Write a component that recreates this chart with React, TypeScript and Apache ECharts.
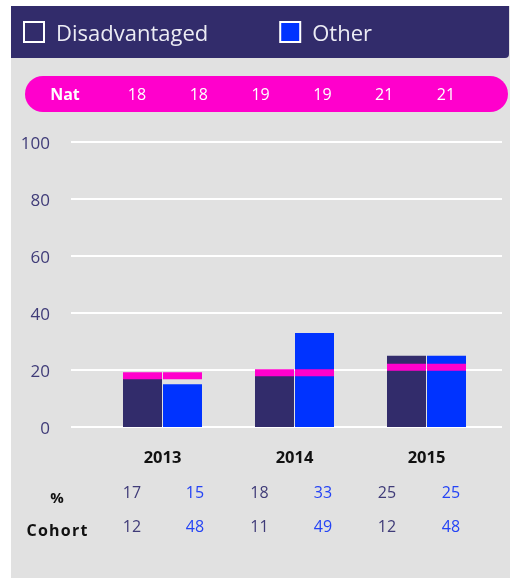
import React, { useEffect, useRef } from 'react';
import * as echarts from 'echarts';

const years = ['2013', '2014', '2015'];
const disadvantaged = [17, 18, 25];
const other = [15, 33, 25];
const natDisadvantaged = [18, 19, 21];
const natOther = [18, 19, 21];
const natLabels = ['18', '18', '19', '19', '21', '21'];
const pctDisadvantaged = ['17', '18', '25'];
const pctOther = ['15', '33', '25'];
const cohortDisadvantaged = ['12', '11', '12'];
const cohortOther = ['48', '49', '48'];

const DARK = '#322c6b';
const BLUE = '#0033ff';
const MAGENTA = '#ff00cc';
const GRAY = '#e1e1e1';
const AXIS = '#3f3b78';
const FONT = '"Open Sans", sans-serif';

export default function App() {
  const ref = useRef<HTMLDivElement>(null);
  useEffect(() => {
    if (!ref.current) return;
    const chart = echarts.init(ref.current, undefined, { renderer: 'svg' });

    const graphics: any[] = [
      { type: 'rect', z: -10, shape: { x: 11, y: 6, width: 499, height: 572 }, style: { fill: GRAY }, silent: true },
      { type: 'rect', z: -9, shape: { x: 11, y: 6, width: 498, height: 52, r: [0, 0, 4, 0] }, style: { fill: DARK }, silent: true },
      { type: 'rect', z: -9, shape: { x: 25, y: 76, width: 483, height: 36, r: 18 }, style: { fill: MAGENTA }, silent: true },
      { type: 'text', x: 65, y: 94, style: { text: 'Nat', fill: '#fff', font: `bold 16px ${FONT}`, textAlign: 'center', textVerticalAlign: 'middle' } },
    ];
    natLabels.forEach((t, i) => {
      graphics.push({ type: 'text', x: 137 + 61.8 * i, y: 94, style: { text: t, fill: '#fff', font: `16px ${FONT}`, textAlign: 'center', textVerticalAlign: 'middle' } });
    });
    graphics.push({ type: 'text', x: 57, y: 497, style: { text: '%', fill: '#111', font: `bold 15px ${FONT}`, textAlign: 'center', textVerticalAlign: 'middle' } });
    // "Cohort" with letter spacing: one glyph at a time
    const cohortWord = 'Cohort';
    const glyphW = [10.1, 9.8, 10.5, 9.8, 7.3, 6.9];
    const spacing = 1.3;
    const cohortTotal = glyphW.reduce((a, b) => a + b, 0) + spacing * (glyphW.length - 1);
    let cx = 57 - cohortTotal / 2;
    for (let k = 0; k < cohortWord.length; k++) {
      graphics.push({ type: 'text', x: cx, y: 530, style: { text: cohortWord[k], fill: '#111', font: `bold 16px ${FONT}`, textAlign: 'left', textVerticalAlign: 'middle' } });
      cx += glyphW[k] + spacing;
    }
    years.forEach((_, i) => {
      const xd = 132 + 127.5 * i;
      const xo = 195 + 128 * i;
      graphics.push({ type: 'text', x: xd, y: 492, style: { text: pctDisadvantaged[i], fill: AXIS, font: `16px ${FONT}`, textAlign: 'center', textVerticalAlign: 'middle' } });
      graphics.push({ type: 'text', x: xo, y: 492, style: { text: pctOther[i], fill: '#2443f5', font: `16px ${FONT}`, textAlign: 'center', textVerticalAlign: 'middle' } });
      graphics.push({ type: 'text', x: xd, y: 526, style: { text: cohortDisadvantaged[i], fill: AXIS, font: `16px ${FONT}`, textAlign: 'center', textVerticalAlign: 'middle' } });
      graphics.push({ type: 'text', x: xo, y: 526, style: { text: cohortOther[i], fill: '#2443f5', font: `16px ${FONT}`, textAlign: 'center', textVerticalAlign: 'middle' } });
    });

    chart.setOption({
      animation: false,
      textStyle: { fontFamily: FONT },
      graphic: graphics,
      legend: {
        left: 23,
        top: 16,
        padding: [5, 0, 5, 0],
        itemWidth: 20,
        itemHeight: 20,
        itemGap: 71,
        icon: 'rect',
        data: ['Disadvantaged', 'Other'],
        itemStyle: { borderColor: '#fff', borderWidth: 2 },
        textStyle: { color: '#ececf4', fontSize: 22, fontFamily: FONT, padding: [0, 0, 0, 7] },
        selectedMode: false,
      },
      grid: [
        { left: 71, right: 8, top: 142, bottom: 151 },
        { left: 96.5, width: 396, top: 142, bottom: 151 },
      ],
      xAxis: [
        { type: 'value', gridIndex: 0, min: 0, max: 1, show: false },
        {
          type: 'category', gridIndex: 1, data: years,
          axisLine: { show: false }, axisTick: { show: false },
          axisLabel: { color: '#111', fontWeight: 'bold', fontSize: 16.5, margin: 21, fontFamily: FONT },
        },
      ],
      yAxis: [
        {
          type: 'value', gridIndex: 0, min: 0, max: 100, interval: 20,
          axisLine: { show: false }, axisTick: { show: false },
          axisLabel: { color: AXIS, fontSize: 17, margin: 21, fontFamily: FONT },
          splitLine: { lineStyle: { color: '#fff', width: 2 } },
        },
        { type: 'value', gridIndex: 1, min: 0, max: 100, interval: 20, show: false, splitLine: { show: false } },
      ],
      series: [
        {
          name: 'Disadvantaged', type: 'bar', xAxisIndex: 1, yAxisIndex: 1, data: disadvantaged,
          barWidth: 39, barGap: '2.57%', itemStyle: { color: DARK }, z: 2,
        },
        {
          name: 'Other', type: 'bar', xAxisIndex: 1, yAxisIndex: 1, data: other,
          barWidth: 39, barGap: '2.57%', itemStyle: { color: BLUE }, z: 2,
        },
        {
          name: 'Nat Disadvantaged', type: 'scatter', xAxisIndex: 1, yAxisIndex: 1, data: natDisadvantaged,
          symbol: 'rect', symbolSize: [39, 7], symbolOffset: [-20, 0], itemStyle: { color: MAGENTA, opacity: 1 }, z: 3,
        },
        {
          name: 'Nat Other', type: 'scatter', xAxisIndex: 1, yAxisIndex: 1, data: natOther,
          symbol: 'rect', symbolSize: [39, 7], symbolOffset: [20, 0], itemStyle: { color: MAGENTA, opacity: 1 }, z: 3,
        },
      ],
    });
    return () => chart.dispose();
  }, []);
  return <div ref={ref} style={{ position: 'fixed', left: 0, top: 0, width: 510, height: 578 }} />;
}
